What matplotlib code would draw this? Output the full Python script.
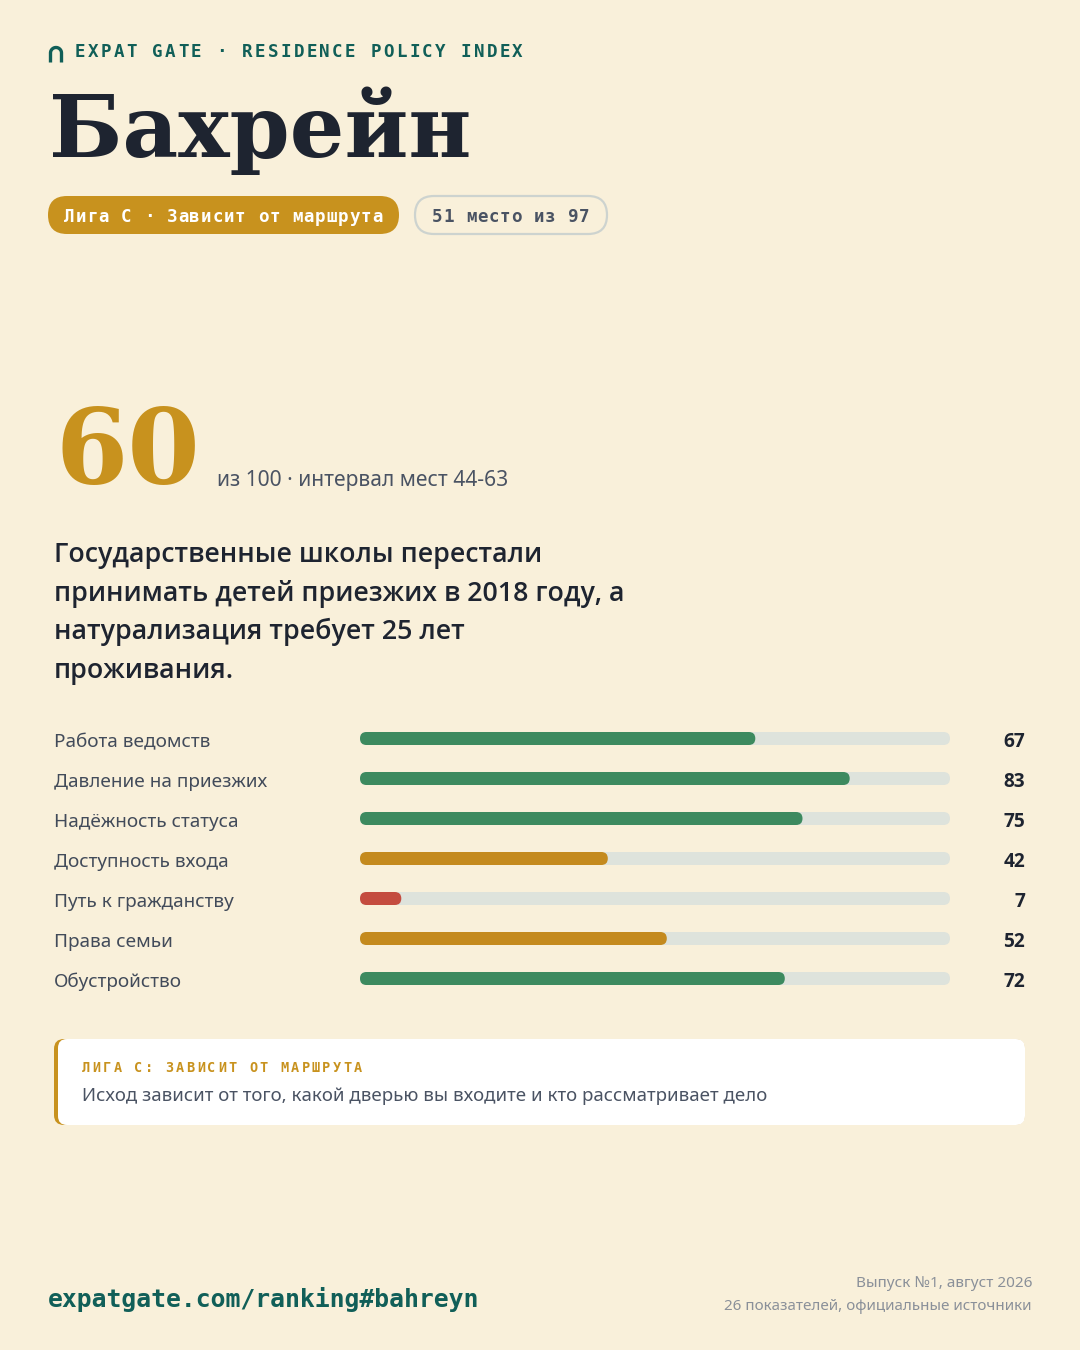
import matplotlib
matplotlib.use("Agg")
import matplotlib.pyplot as plt
from matplotlib.patches import FancyBboxPatch
from matplotlib import font_manager as fm
import numpy as np

# ---------------- data ----------------
brand = "EXPAT GATE · RESIDENCE POLICY INDEX"
country = "Бахрейн"
league_pill = "Лига C · Зависит от маршрута"
rank_pill = "51 место из 97"
score = 60
score_note = "из 100 · интервал мест 44-63"
headline = ["Государственные школы перестали",
            "принимать детей приезжих в 2018 году, а",
            "натурализация требует 25 лет",
            "проживания."]
categories = ["Работа ведомств", "Давление на приезжих", "Надёжность статуса",
              "Доступность входа", "Путь к гражданству", "Права семьи", "Обустройство"]
values = [67, 83, 75, 42, 7, 52, 72]
callout_title = "ЛИГА C: ЗАВИСИТ ОТ МАРШРУТА"
callout_text = "Исход зависит от того, какой дверью вы входите и кто рассматривает дело"
url = "expatgate.com/ranking#bahreyn"
footer_lines = ["Выпуск №1, август 2026", "26 показателей, официальные источники"]

# ---------------- style ----------------
BG = "#F9F0DA"
DARK = "#1E2430"
GOLD = "#C8921E"
TEAL = "#115F58"
GREEN = "#3D8A5F"
BARGOLD = "#C48A1E"
RED = "#C44C3F"
TRACK = "#DEE3DC"
GREY = "#4A5363"
LABELGREY = "#424B5A"
LIGHTGREY = "#8A9099"
MONO = ["DejaVu Sans Mono"]
SERIF = ["DejaVu Serif"]

_W = {"thin": 100, "extralight": 200, "light": 300, "normal": 400, "regular": 400,
      "book": 400, "medium": 500, "semibold": 600, "demibold": 600, "bold": 700,
      "extrabold": 800, "heavy": 900, "black": 900}


def pick(families, weight):
    best = None
    for fam in families:
        for f in fm.fontManager.ttflist:
            if f.name != fam or f.style != "normal":
                continue
            if "condensed" in f.fname.lower():
                continue
            w = f.weight if isinstance(f.weight, int) else _W.get(str(f.weight).lower(), 400)
            d = abs(w - weight)
            if best is None or d < best[0]:
                best = (d, f.fname)
        if best is not None and best[0] <= 50:
            break
    if best is None:
        return fm.FontProperties(family="DejaVu Sans")
    return fm.FontProperties(fname=best[1])


SANS_R = pick(["Noto Sans", "Open Sans"], 400)
SANS_SB = pick(["Noto Sans", "Open Sans"], 600)
SANS_B = pick(["Noto Sans", "Open Sans", "Roboto"], 700)

W, H = 1080, 1350
fig = plt.figure(figsize=(W / 100, H / 100), dpi=100, facecolor=BG)
bg = fig.add_axes([0, 0, 1, 1])
bg.set_xlim(0, W)
bg.set_ylim(H, 0)
bg.axis("off")
bg.set_facecolor(BG)


def pt(px):
    return px * 0.72


def stext(x, y, s, fp, px, **kw):
    p = fp.copy()
    p.set_size(pt(px))
    return bg.text(x, y, s, fontproperties=p, va="baseline", **kw)


def spaced(ax, x, y, s, adv, **kw):
    for i, ch in enumerate(s):
        ax.text(x + i * adv, y, ch, ha="left", va="baseline", **kw)


# logo arch
th = np.linspace(np.pi, 0, 40)
lx = np.concatenate([[50.5], 56 + 5.5 * np.cos(th), [61.5]])
ly = np.concatenate([[62.5], 53 - 5.5 * np.sin(th), [62.5]])
bg.plot(lx, ly, color=TEAL, lw=2.4, solid_capstyle="butt", solid_joinstyle="round")

spaced(bg, 75, 57, brand, 12.86, family=MONO, weight="bold", size=pt(17.5), color=TEAL)

# title
bg.text(49, 157, country, family=SERIF, weight="bold", size=pt(86), color=DARK,
        ha="left", va="baseline")

# pills
bg.add_patch(FancyBboxPatch((48, 196), 351, 38,
                            boxstyle="round,pad=0,rounding_size=19", fc=GOLD, ec="none"))
spaced(bg, 64, 222, league_pill, 11.4, family=MONO, weight="bold", size=pt(17.5), color="white")
bg.add_patch(FancyBboxPatch((415, 196), 192, 38,
                            boxstyle="round,pad=0,rounding_size=19", fc="none",
                            ec="#CDD3CF", lw=1.6))
spaced(bg, 432, 222, rank_pill, 11.3, family=MONO, weight="bold", size=pt(17.5), color=GREY)

# big score
bg.text(55, 484, str(score), family=SERIF, weight="bold", size=pt(104), color=GOLD,
        ha="left", va="baseline")
stext(217, 486, score_note, SANS_R, 21, color=GREY, ha="left")

# headline
for i, line in enumerate(headline):
    stext(54, 562 + i * 38.7, line, SANS_SB, 26.8, color=DARK, ha="left")

# bars
row_h = 40
top = 718.5
n = len(categories)
bax = fig.add_axes([360 / W, 1 - (top + n * row_h) / H, 590 / W, n * row_h / H])
bax.set_xlim(0, 100)
bax.set_ylim(n - 0.5, -0.5)
bax.axis("off")
px_x = 590 / 100
bar_h = 13 / row_h
r = 6.5 / px_x
asp = px_x / row_h


def bar_color(v):
    if v >= 60:
        return GREEN
    if v >= 20:
        return BARGOLD
    return RED


for i, (cat, v) in enumerate(zip(categories, values)):
    bax.add_patch(FancyBboxPatch((0, i - bar_h / 2), 100, bar_h,
                                 boxstyle=f"round,pad=0,rounding_size={r}",
                                 mutation_aspect=asp, fc=TRACK, ec="none"))
    bax.add_patch(FancyBboxPatch((0, i - bar_h / 2), v, bar_h,
                                 boxstyle=f"round,pad=0,rounding_size={r}",
                                 mutation_aspect=asp, fc=bar_color(v), ec="none"))
    yb = 747 + i * row_h
    stext(54, yb, cat, SANS_R, 19, color=LABELGREY, ha="left")
    stext(1025, yb, str(v), SANS_B, 19, color=DARK, ha="right")

# callout
bg.add_patch(FancyBboxPatch((54, 1039), 971, 86, boxstyle="round,pad=0,rounding_size=10",
                            fc=GOLD, ec="none"))
bg.add_patch(FancyBboxPatch((58, 1039), 967, 86, boxstyle="round,pad=0,rounding_size=9",
                            fc="white", ec="none"))
spaced(bg, 82, 1072, callout_title, 10.45, family=MONO, weight="bold", size=pt(13.5), color=GOLD)
stext(82, 1101, callout_text, SANS_R, 18.7, color=GREY, ha="left")

# footer
bg.text(48, 1307, url, family=MONO, weight="bold", size=pt(24.8), color=TEAL,
        ha="left", va="baseline")
stext(1032, 1287, footer_lines[0], SANS_R, 15.3, color=LIGHTGREY, ha="right")
stext(1032, 1310, footer_lines[1], SANS_R, 15.2, color=LIGHTGREY, ha="right")

fig.savefig("out.png", dpi=100, facecolor=BG)
